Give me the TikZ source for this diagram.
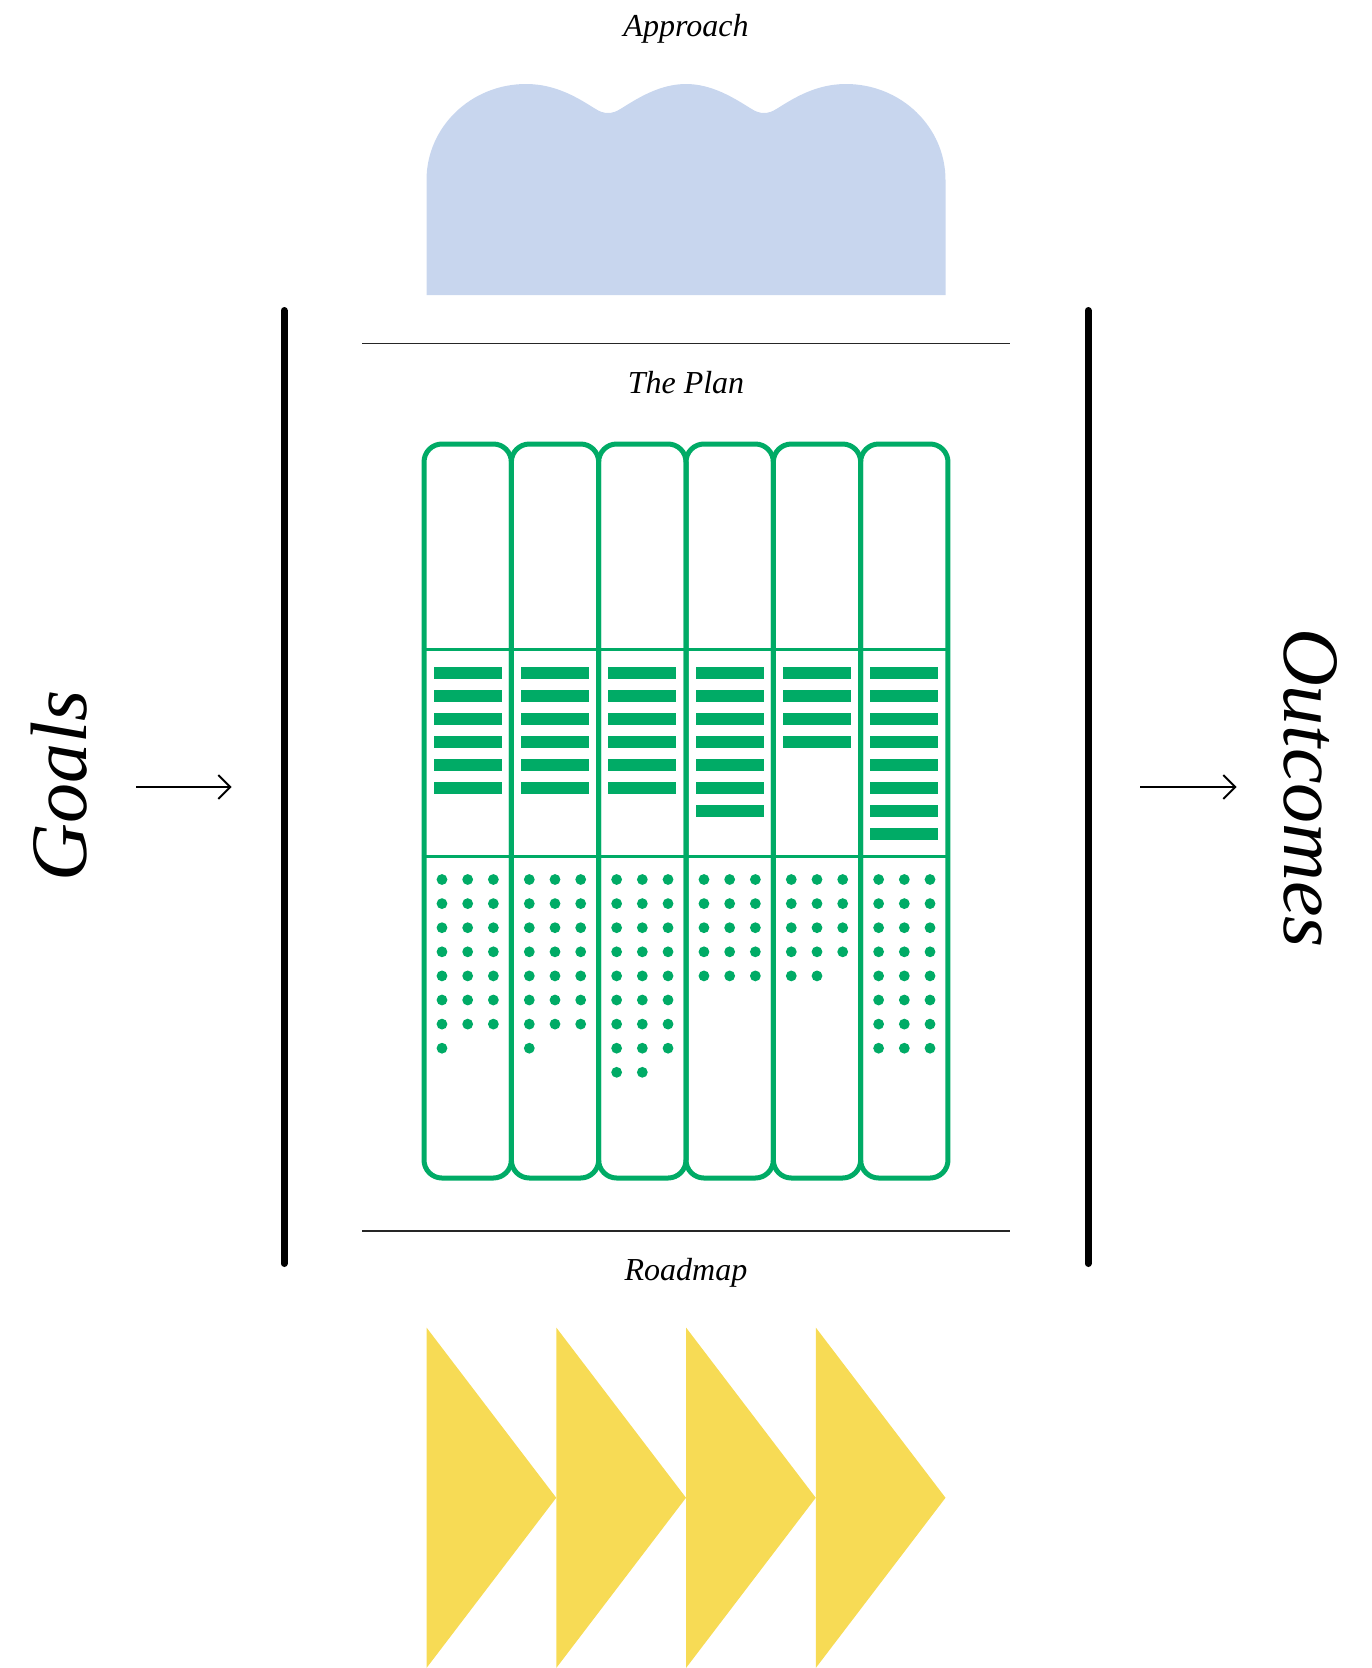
\documentclass[tikz,border=0pt]{standalone}
\usepackage{fontspec}
\setmainfont{Liberation Serif}
\usepackage{tikz}
\usetikzlibrary{arrows.meta}

\definecolor{cloudblue}{HTML}{C8D6EE}
\definecolor{planGreen}{HTML}{00AB66}
\definecolor{roadYellow}{HTML}{F7DB55}

\begin{document}
\begin{tikzpicture}[
    x=1pt, y=-1pt,
    heading/.style  ={font=\fontsize{32}{38}\selectfont\itshape, anchor=base, inner sep=0pt},
    sideword/.style ={font=\fontsize{80}{92}\selectfont\itshape, anchor=base, inner sep=0pt},
    lane/.style     ={draw=planGreen, line width=5pt, rounded corners=18pt, minimum width=87.33pt, minimum height=734pt, inner sep=0pt},
    divider/.style  ={draw=planGreen, line width=2.8pt},
    taskbar/.style  ={fill=planGreen},
    pip/.style      ={fill=planGreen},
    wall/.style     ={line width=7pt, line cap=round},
    hrule/.style    ={line width=1.3pt, black!85},
    flow/.style     ={-{Straight Barb[length=12pt,width=24pt]}, line width=2pt},
  ]
  \useasboundingbox (0,0) rectangle (1371,1668);
  % approach: the cloud on top
  \node[heading] (approach) at (686,36) {Approach};
  \fill[cloudblue] (426.5,295) -- (426.5,180)
    .. controls (426.5,127) and (471,84) .. (526,84)
    .. controls (556,84) and (578,98) .. (594,108)
    .. controls (600,112) and (604,113) .. (608,113)
    .. controls (612,113) and (616,112) .. (622,108)
    .. controls (638,98) and (660,84) .. (686,84)
    .. controls (712,84) and (734,98) .. (750,108)
    .. controls (756,112) and (760,113) .. (764,113)
    .. controls (768,113) and (772,112) .. (778,108)
    .. controls (794,98) and (816,84) .. (846,84)
    .. controls (901,84) and (945.5,127) .. (945.5,180)
    -- (945.5,295) -- cycle;
  % walls and rules
  \draw[wall] (284,310.5) -- (284,1263.5);
  \draw[wall] (1088,310.5) -- (1088,1263.5);
  \draw[hrule] (362,343.3) -- (1010,343.3);
  \node[heading] (plan) at (686,393) {The Plan};
  \draw[hrule] (362,1231) -- (1010,1231);
  \node[heading] (roadmap) at (686,1280) {Roadmap};
  % the plan: six columns, bars and dots
  \foreach \i/\nb/\nd in {1/6/22,2/6/22,3/6/26,4/7/15,5/4/14,6/8/24}{
    \pgfmathsetmacro{\cx}{467.67+87.33*(\i-1)}
    \node[lane] (col\i) at (\cx,811) {};
    \foreach \k in {1,...,\nb}
      \fill[taskbar] (\cx-34,643.5+23*\k) rectangle ++(68,12);
    \foreach \d in {1,...,\nd}{
      \pgfmathtruncatemacro{\drow}{(\d-1)/3}
      \pgfmathtruncatemacro{\dpos}{mod(\d-1,3)}
      \fill[pip] (\cx+25.7*\dpos-25.7,879.5+24.1*\drow) circle[radius=5.4pt];
    }
  }
  \draw[divider] (col1.west |- 0,649.5) -- (col6.east |- 0,649.5);
  \draw[divider] (col1.west |- 0,856.5) -- (col6.east |- 0,856.5);
  % roadmap: chevrons
  \foreach \t in {0,...,3}
    \fill[roadYellow] (426.5+129.75*\t,1327.5) -- (556.25+129.75*\t,1497.75) -- (426.5+129.75*\t,1668) -- cycle;
  % goals in, outcomes out
  \node[sideword, rotate=90] (goals) at (86,785.5) {Goals};
  \node[sideword, rotate=-90] (outcomes) at (1284,788) {Outcomes};
  \coordinate (goals-tail) at (136,787);
  \coordinate (goals-head) at (231.7,787);
  \coordinate (out-tail) at (1140,787);
  \coordinate (out-head) at (1236.7,787);
  \draw[flow] (goals-tail) -- (goals-head);
  \draw[flow] (out-tail) -- (out-head);
\end{tikzpicture}
\end{document}
